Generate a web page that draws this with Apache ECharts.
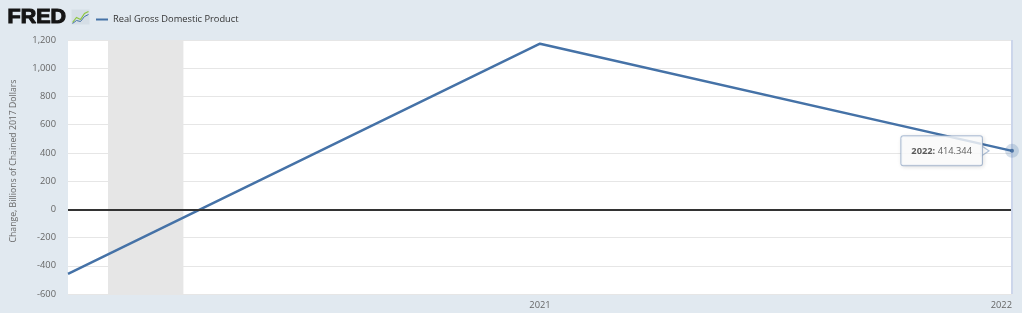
<!DOCTYPE html>
<html>
<head>
<meta charset="utf-8">
<script src="https://cdn.jsdelivr.net/npm/echarts@6/dist/echarts.min.js"></script>
<style>
html,body{margin:0;padding:0;background:#e1e9f0;}
#c{width:1022px;height:313px;}
</style>
</head>
<body>
<div id="c"></div>
<script>
// Data
var years = [2020, 2021, 2022];
var gdpChange = [-458.1, 1173.6, 414.344];
var xTickLabels = ['2021', '2022'];
var yTicks = [-600, -400, -200, 0, 200, 400, 600, 800, 1000, 1200];
var recessionStart = [2020 + 31 / 366];
var recessionEnd = [2020 + 89.5 / 366];
var seriesName = 'Real Gross Domestic Product';
var yAxisTitle = 'Change, Billions of Chained 2017 Dollars';

var lineData = years.map(function (y, i) { return [y, gdpChange[i]]; });
var lastIdx = years.length - 1;
var lastPoint = [[years[lastIdx], gdpChange[lastIdx]]];
var recessionAreas = recessionStart.map(function (s, i) {
  return [{ xAxis: s }, { xAxis: recessionEnd[i] }];
});

var FONT = '"Open Sans", sans-serif';
var FS = 9.3;
var chart = echarts.init(document.getElementById('c'), null, { renderer: 'canvas' });

chart.setOption({
  backgroundColor: '#e1e9f0',
  animation: false,
  textStyle: { fontFamily: FONT },
  grid: {
    left: 68, right: 10, top: 40, bottom: 19,
    show: true, backgroundColor: '#ffffff', borderWidth: 0
  },
  graphic: [
    {
      type: 'text', left: 7, top: 7, scaleX: 1.1,
      style: {
        text: 'FRED', font: '900 19.5px "Liberation Sans", Arial, sans-serif',
        fill: '#151515', stroke: '#151515', lineWidth: 1.1
      }
    },
    {
      type: 'group', left: 70, top: 9,
      children: [
        { type: 'rect', shape: { x: 0, y: 0, width: 18, height: 15 }, style: { fill: '#d5dee6' } },
        { type: 'polyline', shape: { points: [[1, 13], [5, 8], [9, 10], [13, 4], [17, 2]] }, style: { stroke: '#8dc63f', lineWidth: 1.2, fill: null } },
        { type: 'polyline', shape: { points: [[1, 14], [5, 11], [9, 12], [13, 7], [17, 5]] }, style: { stroke: '#4572a7', lineWidth: 1, fill: null } }
      ]
    }
  ],
  legend: {
    left: 91, top: 10,
    data: [seriesName],
    icon: 'rect', itemWidth: 12, itemHeight: 2, itemGap: 3,
    textStyle: { fontSize: FS, color: '#333', fontFamily: FONT }
  },
  xAxis: {
    type: 'value', min: years[0], max: years[lastIdx], interval: 1,
    axisLine: { show: false },
    axisTick: { show: false },
    splitLine: { show: false },
    axisLabel: {
      color: '#666', fontSize: FS, margin: 7, fontFamily: FONT,
      alignMaxLabel: 'right',
      formatter: function (v) {
        var s = String(Math.round(v));
        return xTickLabels.indexOf(s) >= 0 ? s : '';
      }
    }
  },
  yAxis: {
    type: 'value', min: yTicks[0], max: yTicks[yTicks.length - 1], interval: 200,
    name: yAxisTitle, nameLocation: 'middle', nameGap: 50,
    nameTextStyle: { color: '#666', fontSize: 8.7, fontFamily: FONT, padding: [0, 0, 0, 12] },
    axisLine: { show: false }, axisTick: { show: false },
    axisLabel: {
      color: '#666', fontSize: FS, margin: 12, fontFamily: FONT,
      formatter: function (v) { return v.toLocaleString('en-US'); }
    },
    splitLine: { lineStyle: { color: '#e6e6e6', width: 1 } }
  },
  series: [
    {
      name: seriesName, type: 'line', data: lineData,
      showSymbol: false, color: '#4572a7',
      lineStyle: { color: '#4572a7', width: 2.5 },
      markArea: {
        silent: true,
        itemStyle: { color: '#e6e6e6' },
        data: recessionAreas
      },
      markLine: {
        silent: true, symbol: 'none', label: { show: false },
        data: [
          { yAxis: 0, lineStyle: { color: '#333', width: 2, type: 'solid' } },
          { xAxis: years[lastIdx], lineStyle: { color: '#ccd6eb', width: 2, type: 'solid' } }
        ]
      },
      z: 3
    },
    {
      name: 'arrow', type: 'scatter', data: lastPoint, clip: false,
      symbol: 'triangle', symbolRotate: -90, symbolSize: [11, 8], symbolOffset: [-27, 0],
      itemStyle: { color: '#ffffff', borderColor: '#9db3cf', borderWidth: 1 },
      silent: true, z: 6
    },
    {
      name: 'halo', type: 'scatter', data: lastPoint, clip: false,
      symbolSize: 14, itemStyle: { color: 'rgba(69,114,167,0.28)' },
      silent: true, z: 7,
      label: {
        show: true, position: 'left', distance: 23,
        backgroundColor: '#ffffff', borderColor: '#9db3cf', borderWidth: 1,
        borderRadius: 2, padding: [10, 10, 10, 10],
        shadowColor: 'rgba(0,0,0,0.12)', shadowBlur: 4, shadowOffsetX: 1, shadowOffsetY: 1,
        color: '#333', fontSize: FS, fontFamily: FONT,
        formatter: function (p) { return '{b|' + p.value[0] + ':} ' + p.value[1]; },
        rich: { b: { fontWeight: 'bold', fontSize: FS, color: '#333', fontFamily: FONT } }
      }
    },
    {
      name: 'dot', type: 'scatter', data: lastPoint, clip: false,
      symbolSize: 4, itemStyle: { color: '#2f5d94' }, silent: true, z: 8
    }
  ]
});
</script>
</body>
</html>
